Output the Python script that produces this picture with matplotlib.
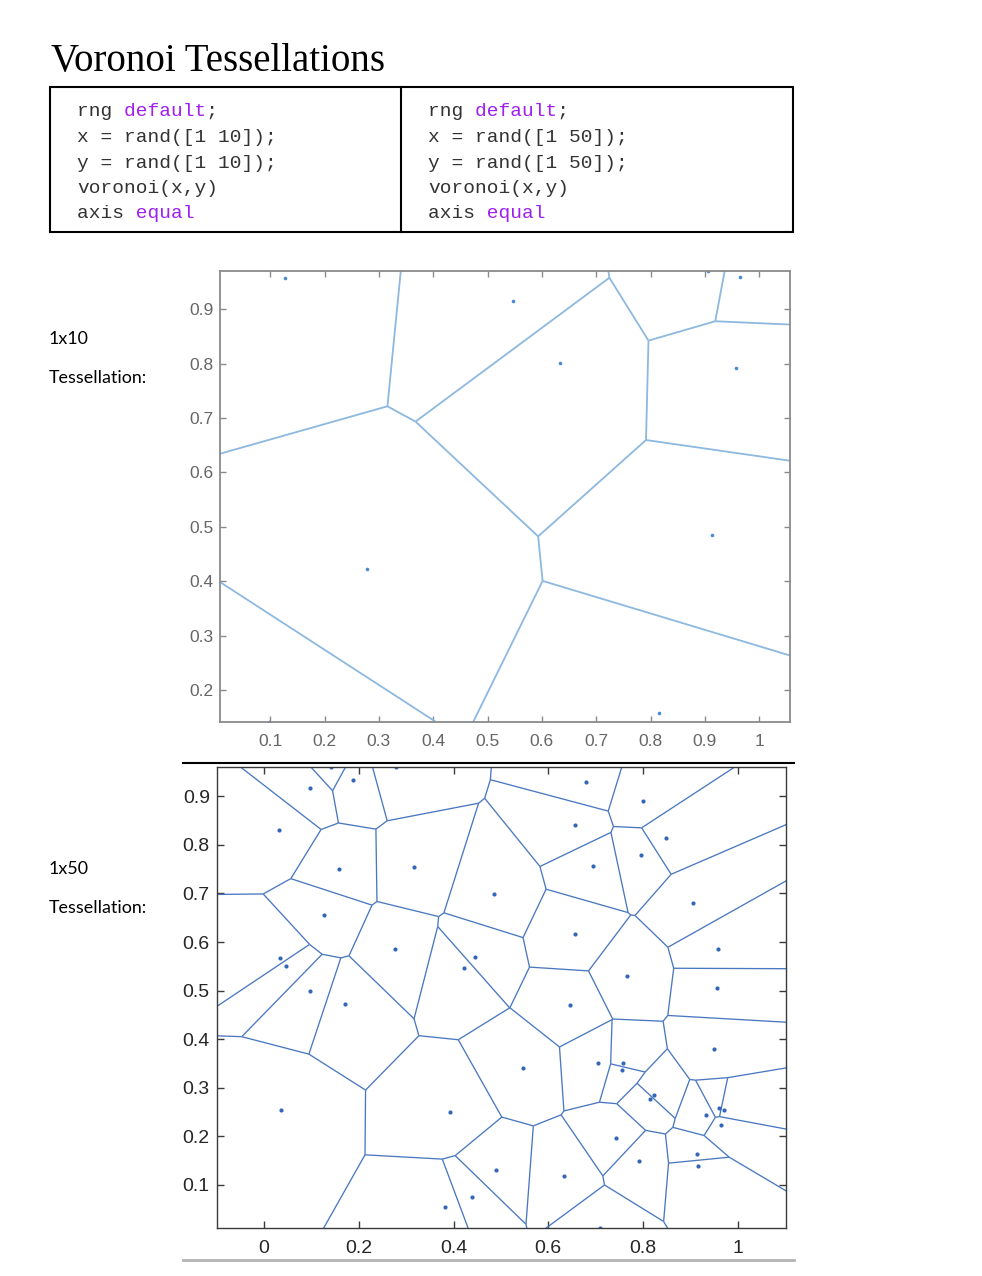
import matplotlib
matplotlib.use('Agg')
import matplotlib.pyplot as plt
from matplotlib.collections import LineCollection
from matplotlib.lines import Line2D
from matplotlib.patches import Rectangle
import numpy as np

# rng default; x = rand([1 10]); y = rand([1 10]);
x10 = [0.8147, 0.9058, 0.1270, 0.9134, 0.6324, 0.0975, 0.2785, 0.5469, 0.9575, 0.9649]
y10 = [0.1576, 0.9706, 0.9572, 0.4854, 0.8003, 0.1419, 0.4218, 0.9157, 0.7922, 0.9595]

# rng default; x = rand([1 50]); y = rand([1 50]);
x50 = [0.8147, 0.9058, 0.1270, 0.9134, 0.6324, 0.0975, 0.2785, 0.5469, 0.9575, 0.9649,
       0.1576, 0.9706, 0.9572, 0.4854, 0.8003, 0.1419, 0.4218, 0.9157, 0.7922, 0.9595,
       0.6557, 0.0357, 0.8491, 0.9340, 0.6787, 0.7577, 0.7431, 0.3922, 0.6555, 0.1712,
       0.7060, 0.0318, 0.2769, 0.0462, 0.0971, 0.8235, 0.6948, 0.3171, 0.9502, 0.0344,
       0.4387, 0.3816, 0.7655, 0.7952, 0.1869, 0.4898, 0.4456, 0.6463, 0.7094, 0.7547]
y50 = [0.2760, 0.6797, 0.6551, 0.1626, 0.1190, 0.4984, 0.9597, 0.3404, 0.5853, 0.2238,
       0.7513, 0.2551, 0.5060, 0.6991, 0.8909, 0.9593, 0.5472, 0.1386, 0.1493, 0.2575,
       0.8407, 0.2543, 0.8143, 0.2435, 0.9293, 0.3500, 0.1966, 0.2511, 0.6160, 0.4733,
       0.3517, 0.8308, 0.5853, 0.5497, 0.9172, 0.2858, 0.7572, 0.7537, 0.3804, 0.5678,
       0.0759, 0.0540, 0.5308, 0.7792, 0.9340, 0.1299, 0.5688, 0.4694, 0.0119, 0.3371]

xticks10 = [0.1, 0.2, 0.3, 0.4, 0.5, 0.6, 0.7, 0.8, 0.9, 1.0]
xlabels10 = ['0.1', '0.2', '0.3', '0.4', '0.5', '0.6', '0.7', '0.8', '0.9', '1']
yticks10 = [0.2, 0.3, 0.4, 0.5, 0.6, 0.7, 0.8, 0.9]
ylabels10 = ['0.2', '0.3', '0.4', '0.5', '0.6', '0.7', '0.8', '0.9']

xticks50 = [0.0, 0.2, 0.4, 0.6, 0.8, 1.0]
xlabels50 = ['0', '0.2', '0.4', '0.6', '0.8', '1']
yticks50 = [0.1, 0.2, 0.3, 0.4, 0.5, 0.6, 0.7, 0.8, 0.9]
ylabels50 = ['0.1', '0.2', '0.3', '0.4', '0.5', '0.6', '0.7', '0.8', '0.9']

code_left = ['rng default;', 'x = rand([1 10]);', 'y = rand([1 10]);', 'voronoi(x,y)', 'axis equal']
code_right = ['rng default;', 'x = rand([1 50]);', 'y = rand([1 50]);', 'voronoi(x,y)', 'axis equal']
keywords = ['default', 'equal']

W, H = 982, 1276


def fx(px):
    return px / W


def fy(py):
    return 1 - py / H


def voronoi_edges(px, py, far=10.0):
    # each pair's bisector, clipped to where no other site is closer
    pts = np.column_stack([px, py])
    sq = (pts ** 2).sum(axis=1)
    n = len(pts)
    segs = []
    for i in range(n):
        for j in range(i + 1, n):
            mid = (pts[i] + pts[j]) / 2
            d = pts[j] - pts[i]
            d = np.array([-d[1], d[0]]) / np.hypot(d[0], d[1])
            lo, hi = -far, far
            for k in range(n):
                if k == i or k == j:
                    continue
                g = pts[k] - pts[i]
                a = 2 * d @ g
                b = sq[k] - sq[i] - 2 * mid @ g
                if abs(a) < 1e-12:
                    if b < 0:
                        lo, hi = 1, 0
                        break
                elif a > 0:
                    hi = min(hi, b / a)
                else:
                    lo = max(lo, b / a)
                if lo >= hi:
                    break
            if hi - lo > 1e-9:
                segs.append([mid + lo * d, mid + hi * d])
    return segs


def code_block(fig, lines, x0, y0, step):
    # monospace: plain text with keywords blanked, then keywords alone in purple
    for n, line in enumerate(lines):
        plain = line
        for kw in keywords:
            plain = plain.replace(kw, ' ' * len(kw))
        hl = ''.join(line[i] if plain[i] == ' ' and line[i] != ' ' else ' ' for i in range(len(line)))
        y = fy(y0 + n * step)
        fig.text(fx(x0), y, plain, family='Liberation Mono', fontsize=14, color='#333333', va='center')
        fig.text(fx(x0), y, hl, family='Liberation Mono', fontsize=14, color='#a020f0', va='center')


fig = plt.figure(figsize=(W / 100, H / 100), dpi=100)

fig.text(fx(51), fy(71), 'Voronoi Tessellations', family='Liberation Serif', fontsize=28,
         color='black', va='baseline')

# code table
fig.add_artist(Rectangle((fx(50), fy(232)), fx(793) - fx(50), fy(87) - fy(232),
                         fill=False, edgecolor='black', lw=1.5, transform=fig.transFigure))
fig.add_artist(Line2D([fx(401), fx(401)], [fy(87), fy(232)], color='black', lw=1.5))
code_block(fig, code_left, 77, 112, 25.5)
code_block(fig, code_right, 428, 112, 25.5)

# row labels
for label, base in [('1x10', 344), ('Tessellation:', 383), ('1x50', 874), ('Tessellation:', 913)]:
    fig.text(fx(49), fy(base), label, family='Lato', fontsize=12.9, color='black', va='baseline')

# separator lines
fig.add_artist(Line2D([fx(183), fx(794)], [fy(762.5), fy(762.5)], color='black', lw=1.5))
fig.add_artist(Line2D([fx(183), fx(794)], [fy(1260), fy(1260)], color='#b4b4b4', lw=2))

# 1x10 diagram
ax1 = fig.add_axes([fx(219.5), fy(721.7), fx(790) - fx(219.5), fy(270.7) - fy(721.7)])
ax1.add_collection(LineCollection(voronoi_edges(x10, y10), colors='#8db8e0', linewidths=1.3))
ax1.plot(x10, y10, 'o', color='#4a8ad0', markersize=2.6, markeredgewidth=0)
ax1.set_xlim(0.0067, 1.0565)
ax1.set_ylim(0.1419, 0.9706)
ax1.set_xticks(xticks10, xlabels10)
ax1.set_yticks(yticks10, ylabels10)
for s in ax1.spines.values():
    s.set_color('#8a8a8a')
    s.set_linewidth(1.3)
ax1.tick_params(direction='in', top=True, right=True, length=4, width=1, color='#8a8a8a',
                labelcolor='#666666', labelsize=12.5)
ax1.tick_params(axis='x', pad=9)
ax1.tick_params(axis='y', pad=4)
for t in ax1.get_xticklabels() + ax1.get_yticklabels():
    t.set_family('Liberation Sans')

# 1x50 diagram
ax2 = fig.add_axes([fx(216.7), fy(1227.7), fx(786) - fx(216.7), fy(767.3) - fy(1227.7)])
ax2.add_collection(LineCollection(voronoi_edges(x50, y50), colors='#4a78c0', linewidths=0.95))
ax2.plot(x50, y50, 'o', color='#3366b8', markersize=3, markeredgewidth=0)
ax2.set_xlim(-0.100, 1.102)
ax2.set_ylim(0.0119, 0.9597)
ax2.set_xticks(xticks50, xlabels50)
ax2.set_yticks(yticks50, ylabels50)
for s in ax2.spines.values():
    s.set_color('#3a3a3a')
    s.set_linewidth(1.0)
ax2.tick_params(direction='in', top=True, right=True, length=5, width=1, color='#3a3a3a',
                labelcolor='#262626', labelsize=14)
ax2.tick_params(axis='x', pad=9)
ax2.tick_params(axis='y', pad=5)
for t in ax2.get_xticklabels() + ax2.get_yticklabels():
    t.set_family('Liberation Sans')

fig.savefig('out.png', dpi=100)
